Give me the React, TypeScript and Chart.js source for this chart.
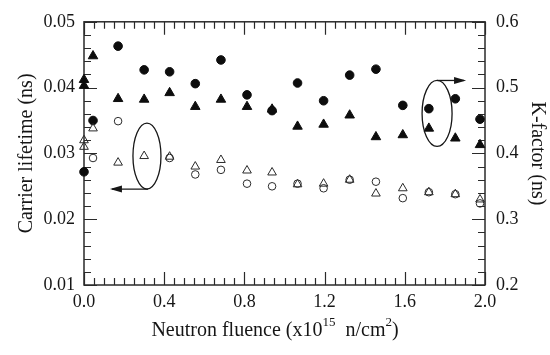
import React, { useEffect, useRef } from "react";
import { Chart, registerables } from "chart.js";

Chart.register(...registerables);

// Neutron fluence (x10^15 n/cm^2) at each measurement
const fluence = [0.0, 0.045, 0.17, 0.3, 0.427, 0.555, 0.683, 0.813, 0.938, 1.065, 1.195, 1.325, 1.456, 1.59, 1.72, 1.852, 1.975];

// Carrier lifetime (ns), left axis, open markers
const lifetimeCircle = [null, 0.0293, 0.0349, null, 0.0293, 0.0268, 0.0275, 0.0254, 0.025, 0.0254, 0.0247, 0.026, 0.0257, 0.0232, 0.0241, 0.0238, 0.0224];
const lifetimeTriangle = [0.032, 0.0338, 0.0286, 0.0296, 0.0295, 0.028, 0.029, 0.0274, 0.0271, 0.0253, 0.0254, 0.026, 0.0239, 0.0247, 0.0241, 0.0238, 0.023];
const lifetimeTriangleRepeatX = [0.0];
const lifetimeTriangleRepeat = [0.031];

// K-factor (ns), right axis, filled markers
const kCircle = [0.372, 0.45, 0.563, 0.527, 0.524, 0.506, 0.542, 0.489, 0.465, 0.507, 0.48, 0.519, 0.528, 0.473, 0.468, 0.483, 0.452];
const kTriangle = [0.512, 0.548, 0.483, 0.482, 0.492, 0.471, 0.482, 0.471, 0.467, 0.441, 0.444, 0.458, 0.425, 0.428, 0.438, 0.423, 0.413];
const kTriangleRepeatX = [0.0];
const kTriangleRepeat = [0.503];

// Axis ranges and tick spacing
const xRange = [0, 2];
const xMajor = 0.4;
const xMinor = 0.05;
const yLeftRange = [0.01, 0.05];
const yLeftMajor = 0.01;
const yLeftMinor = 0.002;
const yRightRange = [0.2, 0.6];
const yRightMajor = 0.1;
const yRightMinor = 0.02;

const FONT = "'Liberation Serif', 'Times New Roman', serif";
const INK = "#161616";

const pts = (xs: number[], ys: (number | null)[]) =>
  xs
    .map((x, i) => ({ x, y: ys[i] }))
    .filter((p) => p.y !== null) as { x: number; y: number }[];

const steps = (min: number, max: number, step: number) => {
  const out: number[] = [];
  const n = Math.round((max - min) / step);
  for (let i = 0; i <= n; i++) out.push(min + i * step);
  return out;
};

// Box frame with inward major/minor tick marks on all four sides
const framePlugin = {
  id: "frameTicks",
  beforeDatasetsDraw(chart: any) {
    const { ctx, chartArea: a, scales } = chart;
    const x = scales.x;
    const yl = scales.y;
    const yr = scales.y1;
    const major = 13;
    const minor = 7;
    ctx.save();
    ctx.strokeStyle = "#2a2a2a";
    ctx.lineWidth = 1.5;
    ctx.strokeRect(a.left, a.top, a.right - a.left, a.bottom - a.top);
    ctx.lineWidth = 1.2;
    ctx.beginPath();
    steps(xRange[0], xRange[1], xMinor).forEach((v, i) => {
      const px = Math.round(x.getPixelForValue(v)) + 0.5;
      const len = i % Math.round(xMajor / xMinor) === 0 ? major : minor;
      ctx.moveTo(px, a.bottom);
      ctx.lineTo(px, a.bottom - len);
      ctx.moveTo(px, a.top);
      ctx.lineTo(px, a.top + len);
    });
    steps(yLeftRange[0], yLeftRange[1], yLeftMinor).forEach((v, i) => {
      const py = Math.round(yl.getPixelForValue(v)) + 0.5;
      const len = i % Math.round(yLeftMajor / yLeftMinor) === 0 ? major : minor;
      ctx.moveTo(a.left, py);
      ctx.lineTo(a.left + len, py);
    });
    steps(yRightRange[0], yRightRange[1], yRightMinor).forEach((v, i) => {
      const py = Math.round(yr.getPixelForValue(v)) + 0.5;
      const len = i % Math.round(yRightMajor / yRightMinor) === 0 ? major : minor;
      ctx.moveTo(a.right, py);
      ctx.lineTo(a.right - len, py);
    });
    ctx.stroke();
    ctx.restore();
  },
};

const arrow = (ctx: CanvasRenderingContext2D, x0: number, y0: number, x1: number, y1: number) => {
  ctx.beginPath();
  ctx.moveTo(x0, y0);
  ctx.lineTo(x1, y1);
  ctx.stroke();
  const dir = Math.sign(x1 - x0);
  ctx.beginPath();
  ctx.moveTo(x1 + dir * 2, y1);
  ctx.lineTo(x1 - dir * 10, y1 - 3.5);
  ctx.lineTo(x1 - dir * 10, y1 + 3.5);
  ctx.closePath();
  ctx.fill();
};

// Ellipses with arrows pointing each marker group to its axis
const annotationPlugin = {
  id: "axisPointers",
  afterDatasetsDraw(chart: any) {
    const { ctx, scales } = chart;
    ctx.save();
    ctx.strokeStyle = INK;
    ctx.fillStyle = INK;
    ctx.lineWidth = 1.3;

    const lx = scales.x.getPixelForValue(0.314);
    const ly = scales.y.getPixelForValue(0.0296);
    ctx.beginPath();
    ctx.ellipse(lx, ly, 14, 33, 0, 0, Math.PI * 2);
    ctx.stroke();
    arrow(ctx, lx + 1, ly + 33, lx - 35, ly + 33);

    const rx = scales.x.getPixelForValue(1.761);
    const ry = scales.y1.getPixelForValue(0.4607);
    ctx.beginPath();
    ctx.ellipse(rx, ry, 15, 33, 0, 0, Math.PI * 2);
    ctx.stroke();
    arrow(ctx, rx, ry - 33, rx + 27, ry - 33);
    ctx.restore();
  },
};

// Axis titles, including superscripts in the fluence unit
const titlesPlugin = {
  id: "axisTitles",
  afterDraw(chart: any) {
    const { ctx, chartArea: a } = chart;
    const midY = (a.top + a.bottom) / 2;
    ctx.save();
    ctx.fillStyle = INK;
    ctx.textBaseline = "middle";
    ctx.textAlign = "center";
    ctx.font = `20px ${FONT}`;

    ctx.save();
    ctx.translate(27, midY);
    ctx.rotate(-Math.PI / 2);
    ctx.fillText("Carrier lifetime (ns)", 0, 0);
    ctx.restore();

    ctx.save();
    ctx.translate(537, midY);
    ctx.rotate(Math.PI / 2);
    ctx.fillText("K-factor (ns)", 0, 0);
    ctx.restore();

    const parts: [string, boolean][] = [
      ["Neutron fluence (x10", false],
      ["15", true],
      ["  n/cm", false],
      ["2", true],
      [")", false],
    ];
    const big = `20px ${FONT}`;
    const small = `13px ${FONT}`;
    let total = 0;
    parts.forEach(([t, sup]) => {
      ctx.font = sup ? small : big;
      total += ctx.measureText(t).width;
    });
    let cx = 275 - total / 2;
    const by = 331;
    ctx.textAlign = "left";
    parts.forEach(([t, sup]) => {
      ctx.font = sup ? small : big;
      ctx.fillText(t, cx, sup ? by - 8 : by);
      cx += ctx.measureText(t).width;
    });
    ctx.restore();
  },
};

export default function App() {
  const ref = useRef<HTMLCanvasElement | null>(null);

  useEffect(() => {
    if (!ref.current) return;
    Chart.defaults.font.family = FONT;
    const tickFont = { family: FONT, size: 18 };
    const open = {
      backgroundColor: "rgba(0,0,0,0)",
      borderColor: "#2a2a2a",
      borderWidth: 1,
    };
    const filled = {
      backgroundColor: "#0d0d0d",
      borderColor: "#0d0d0d",
      borderWidth: 1,
    };
    const chart = new Chart(ref.current, {
      type: "scatter",
      data: {
        datasets: [
          { label: "lifetime circle", data: pts(fluence, lifetimeCircle), yAxisID: "y", pointStyle: "circle", pointRadius: 3.8, ...open },
          { label: "lifetime triangle", data: [...pts(fluence, lifetimeTriangle), ...pts(lifetimeTriangleRepeatX, lifetimeTriangleRepeat)], yAxisID: "y", pointStyle: "triangle", pointRadius: 5, ...open },
          { label: "K circle", data: pts(fluence, kCircle), yAxisID: "y1", pointStyle: "circle", pointRadius: 4.3, ...filled },
          { label: "K triangle", data: [...pts(fluence, kTriangle), ...pts(kTriangleRepeatX, kTriangleRepeat)], yAxisID: "y1", pointStyle: "triangle", pointRadius: 5.5, ...filled },
        ],
      },
      options: {
        animation: false,
        responsive: false,
        clip: false as any,
        layout: { padding: { top: 18, left: 0, right: 0, bottom: 0 } },
        plugins: { legend: { display: false }, tooltip: { enabled: false } },
        scales: {
          x: {
            type: "linear",
            min: xRange[0],
            max: xRange[1],
            grid: { display: false, drawTicks: false },
            border: { display: false },
            ticks: {
              stepSize: xMajor,
              padding: 6,
              color: INK,
              font: tickFont,
              maxRotation: 0,
              callback: (v: any) => Number(v).toFixed(1),
            },
            afterFit: (s: any) => {
              s.height = 70;
            },
          },
          y: {
            type: "linear",
            position: "left",
            min: yLeftRange[0],
            max: yLeftRange[1],
            grid: { display: false, drawTicks: false },
            border: { display: false },
            ticks: {
              stepSize: yLeftMajor,
              padding: 9,
              color: INK,
              font: tickFont,
              callback: (v: any) => Number(v).toFixed(2),
            },
            afterFit: (s: any) => {
              s.width = 84;
            },
          },
          y1: {
            type: "linear",
            position: "right",
            min: yRightRange[0],
            max: yRightRange[1],
            grid: { display: false, drawTicks: false },
            border: { display: false },
            ticks: {
              stepSize: yRightMajor,
              padding: 11,
              color: INK,
              font: tickFont,
              callback: (v: any) => Number(v).toFixed(1),
            },
            afterFit: (s: any) => {
              s.width = 65;
            },
          },
        },
      },
      plugins: [framePlugin, annotationPlugin, titlesPlugin],
    });
    return () => chart.destroy();
  }, []);

  return (
    <div style={{ position: "absolute", left: 0, top: 0, width: 550, height: 355, background: "#fff" }}>
      <canvas ref={ref} width={550} height={355} style={{ display: "block" }} />
    </div>
  );
}
